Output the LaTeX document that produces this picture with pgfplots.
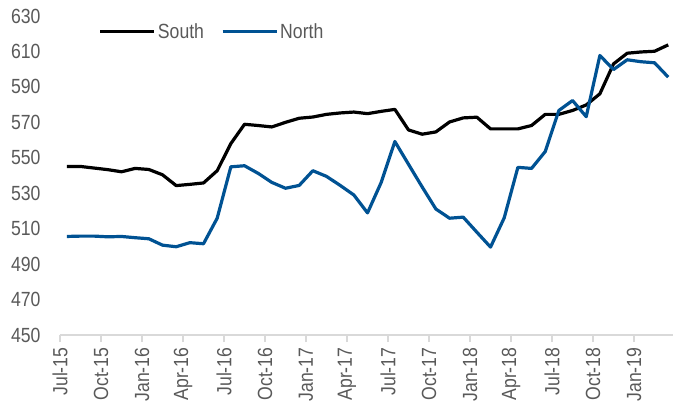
\documentclass[border=0pt]{standalone}
\usepackage{pgfplots}
\pgfplotsset{compat=1.18}
\usepackage{pgfplotstable}
\usetikzlibrary{calc}
\usepackage{fontspec}
\setmainfont{Liberation Sans}[FakeStretch=0.86]
\definecolor{txtgray}{HTML}{595959}
\definecolor{axgray}{HTML}{D9D9D9}
\definecolor{northblue}{RGB}{0,82,147}
\pgfplotstableread{
x y
0.5 545.1
1.5 545.1
2.5 544.2
3.5 543.3
4.5 542.1
5.5 544.0
6.5 543.4
7.5 540.4
8.5 534.3
9.5 535.0
10.5 535.8
11.5 542.7
12.5 558.0
13.5 568.9
14.5 568.2
15.5 567.4
16.5 570.0
17.5 572.3
18.5 573.0
19.5 574.5
20.5 575.3
21.5 575.8
22.5 574.9
23.5 576.2
24.5 577.3
25.5 565.7
26.5 563.3
27.5 564.6
28.5 570.2
29.5 572.5
30.5 572.9
31.5 566.3
32.5 566.3
33.5 566.3
34.5 568.2
35.5 574.5
36.5 574.5
37.5 576.7
38.5 579.8
39.5 586.1
40.5 603.0
41.5 609.0
42.5 609.7
43.5 610.1
44.5 613.7
}\south
\pgfplotstableread{
x y
0.5 505.6
1.5 505.8
2.5 505.8
3.5 505.4
4.5 505.6
5.5 504.9
6.5 504.3
7.5 500.7
8.5 499.8
9.5 502.1
10.5 501.5
11.5 515.9
12.5 544.9
13.5 545.5
14.5 541.2
15.5 536.1
16.5 532.8
17.5 534.4
18.5 542.7
19.5 539.5
20.5 534.4
21.5 529.0
22.5 518.9
23.5 536.1
24.5 559.2
25.5 546.3
26.5 533.5
27.5 521.1
28.5 515.9
29.5 516.5
30.5 508.0
31.5 499.6
32.5 516.1
33.5 544.6
34.5 544.0
35.5 553.5
36.5 576.7
37.5 582.3
38.5 573.2
39.5 607.7
40.5 599.8
41.5 605.3
42.5 604.2
43.5 603.6
44.5 595.5
}\north
\begin{document}
\begin{tikzpicture}
\begin{axis}[
  scale only axis,
  width=613pt, height=319pt,
  xmin=0, xmax=44.85,
  ymin=450, ymax=630,
  clip=false,
  axis x line*=bottom,
  axis y line*=left,
  y axis line style={draw=none},
  x axis line style={draw=axgray, line width=1.2pt},
  ytick={450,470,...,630},
  ytick style={draw=none},
  xtick={0,3,...,42},
  xticklabels={Jul-15,Oct-15,Jan-16,Apr-16,Jul-16,Oct-16,Jan-17,Apr-17,Jul-17,Oct-17,Jan-18,Apr-18,Jul-18,Oct-18,Jan-19},
  xtick style={draw=axgray, line width=1.2pt},
  tick align=outside,
  major tick length=7pt,
  /pgf/number format/assume math mode=true,
  /pgf/number format/1000 sep={},
  tick label style={font=\fontsize{20.5}{24}\selectfont, text=txtgray},
  yticklabel style={anchor=east, xshift=-9pt},
  xticklabel style={rotate=90, anchor=east, yshift=0pt, xshift=-2pt},
  legend columns=2,
  legend style={draw=none, fill=none, at={(rel axis cs:0.058,0.99)}, anchor=north west,
    font=\fontsize{20.5}{24}\selectfont, text=txtgray,
    /tikz/every even column/.append style={column sep=15pt}},
  legend image code/.code={\draw[#1] (0pt,0pt) -- (54pt,0pt);},
]
\addplot[black, line width=3.2pt, line join=round] table[x=x,y=y] {\south};
\addlegendentry{South}
\addplot[northblue, line width=3.2pt, line join=round] table[x=x,y=y] {\north};
\addlegendentry{North}
\coordinate (ll) at (rel axis cs:0,0);
\coordinate (ur) at (rel axis cs:1,1);
\end{axis}
\pgfresetboundingbox
\path ($(ll)+(-60pt,-69pt)$) rectangle ($(ur)+(0pt,16pt)$);
\end{tikzpicture}
\end{document}
